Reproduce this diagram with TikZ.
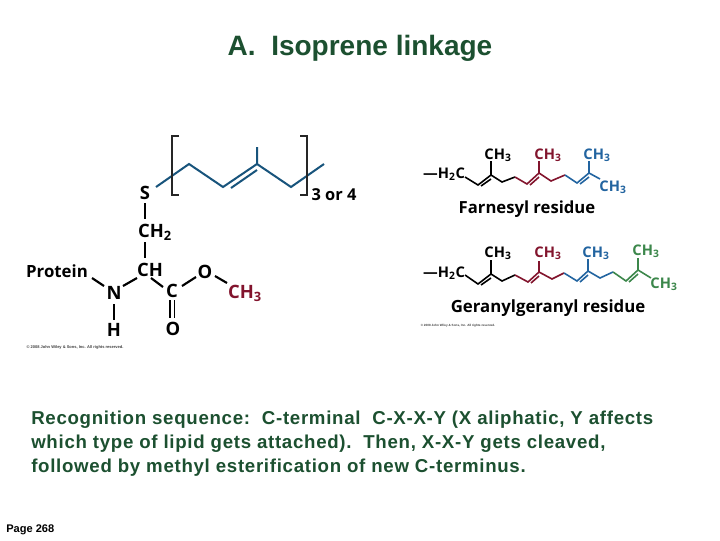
\documentclass[tikz,border=0pt]{standalone}
\usepackage{fontspec}
\setmainfont{Liberation Sans}
\newfontfamily\chemfont{Open Sans}
\newfontfamily\bodyfont[LetterSpace=3.8]{Liberation Sans}
\definecolor{bluec}{RGB}{24,84,124}
\definecolor{blueb}{RGB}{34,100,160}
\definecolor{redc}{RGB}{130,20,45}
\definecolor{greenc}{RGB}{60,135,75}
\definecolor{titlec}{RGB}{28,80,48}
\tikzset{
 lab/.style={font=\chemfont\bfseries\fontsize{#1}{#1}\selectfont,inner sep=0pt},
 lab/.default=13,
 cl/.style={lab=13.8,text=black},
 bond/.style={line width=1.6pt,black},
 sbond/.style={line width=1.3pt,black},
 body/.style={font=\bodyfont\fontsize{14}{18}\selectfont\bfseries,anchor=west,inner sep=0pt,text=titlec},
 tiny/.style={font=\fontsize{#1}{4}\selectfont\bfseries,inner sep=0pt,text=black!75},
}
\begin{document}
\begin{tikzpicture}[x=0.75pt,y=-0.75pt]
\useasboundingbox (0,0) rectangle (720,540);
\fill[white] (0,0) rectangle (720,540);
\node[font=\fontsize{21}{24}\selectfont\bfseries,text=titlec,inner sep=0pt] (title) at (360,48) {A.\ \ Isoprene linkage};
% left structure
\node[cl] (S) at (145,193) {S};
\node[cl] (CH2) at (155,232) {CH\textsubscript{2}};
\node[cl] (CH) at (150,270) {CH};
\node[lab=12.6] (prot) at (57,271) {Protein};
\node[cl] (N) at (114,293) {N};
\node[cl] (H) at (114,330) {H};
\node[cl] (C) at (172,291) {C};
\node[cl] (Od) at (173,329) {O};
\node[cl] (O) at (205,272) {O};
\node[cl,text=redc] (Me) at (245,293) {CH\textsubscript{3}};
\coordinate (sa) at (145,203); \coordinate (sb) at (145,219);
\draw[bond] (sa) -- (sb);
\coordinate (ca) at (145,242); \coordinate (cb) at (145,258);
\draw[bond] (ca) -- (cb);
\coordinate (pa) at (92,278); \coordinate (pb) at (104,286);
\draw[bond] (pa) -- (pb);
\coordinate (na) at (123,286); \coordinate (nb) at (137,278);
\draw[bond] (na) -- (nb);
\coordinate (ha) at (114,304); \coordinate (hb) at (114,320);
\draw[bond] (ha) -- (hb);
\coordinate (da) at (151,278); \coordinate (db) at (163,287);
\draw[bond] (da) -- (db);
\coordinate (ea) at (170,300); \coordinate (eb) at (170,318);
\coordinate (fa) at (174.5,300); \coordinate (fb) at (174.5,318);
\draw[sbond] (ea) -- (eb) (fa) -- (fb);
\coordinate (ga) at (182,286); \coordinate (gb) at (196,277);
\draw[bond] (ga) -- (gb);
\coordinate (ia) at (215,276); \coordinate (ib) at (227,283);
\draw[bond] (ia) -- (ib);
% isoprene unit
\coordinate (i0) at (156,187); \coordinate (i1) at (189,164); \coordinate (i2) at (223,187);
\coordinate (i3) at (257,164); \coordinate (i4) at (291,187); \coordinate (i5) at (324,164);
\coordinate (i6) at (257,147); \coordinate (i7) at (231,188); \coordinate (i8) at (257,170);
\draw[line width=1.5pt,bluec] (i0) -- (i1) -- (i2) -- (i3) -- (i4) -- (i5) (i3) -- (i6) (i7) -- (i8);
\coordinate (bl1) at (179,136); \coordinate (bl2) at (172,136); \coordinate (bl3) at (172,195); \coordinate (bl4) at (179,195);
\coordinate (br1) at (300,136); \coordinate (br2) at (307,136); \coordinate (br3) at (307,195); \coordinate (br4) at (300,195);
\draw[line width=1.5pt,black!85] (bl1) -- (bl2) -- (bl3) -- (bl4) (br1) -- (br2) -- (br3) -- (br4);
\node[lab=12.3] (rep) at (334,195) {3 or 4};
\node[tiny=3] (cp1) at (75,347) {© 2008 John Wiley \& Sons, Inc. All rights reserved.};
% farnesyl
\node[lab=11] (fh) at (444,174) {—H\textsubscript{2}C};
\node[lab=11] (f1) at (498,155) {CH\textsubscript{3}};
\node[lab=11,text=redc] (f2) at (548,155) {CH\textsubscript{3}};
\node[lab=11,text=blueb] (f3) at (597,155) {CH\textsubscript{3}};
\node[lab=11,text=blueb] (f4) at (613,187) {CH\textsubscript{3}};
\node[lab=12.5] (fn) at (527,209) {Farnesyl residue};
\foreach \n/\x/\y in {a/465/177,b/478/185,c/491/175,d/502/182,e/515/177,f/527/184,g/539/173,h/551/181,j/565/175,k/577/183,l/589/173,m/600/179,p/491/161,q/539/161,r/589/161,s/481/186,t/530/185,u/580/184,v/491/179,w/539/177,x/589/177}
  \coordinate (F\n) at (\x,\y);
\draw[line width=1.2pt,black] (Fa) -- (Fb) -- (Fc) -- (Fd) -- (Fe) (Fc) -- (Fp) (Fs) -- (Fv);
\draw[line width=1.2pt,redc] (Fe) -- (Ff) -- (Fg) -- (Fh) -- (Fj) (Fg) -- (Fq) (Ft) -- (Fw);
\draw[line width=1.2pt,blueb] (Fj) -- (Fk) -- (Fl) -- (Fm) (Fl) -- (Fr) (Fu) -- (Fx);
% geranylgeranyl
\node[lab=11] (gh) at (444,273) {—H\textsubscript{2}C};
\node[lab=11] (g1) at (498,253) {CH\textsubscript{3}};
\node[lab=11,text=redc] (g2) at (548,253) {CH\textsubscript{3}};
\node[lab=11,text=blueb] (g3) at (596,253) {CH\textsubscript{3}};
\node[lab=11,text=greenc] (g4) at (646,251) {CH\textsubscript{3}};
\node[lab=11,text=greenc] (g5) at (664,284) {CH\textsubscript{3}};
\node[lab=12.6] (gn) at (548,308) {Geranylgeranyl residue};
\foreach \n/\x/\y in {a/465/275,b/478/284,c/491/274,d/502/281,e/515/275,f/528/282,g/539/272,h/552/279,j/564/273,k/577/281,l/588/271,m/600/278,n/613/272,o/626/281,p/638/270,q/651/278,r/491/260,s/539/261,t/588/259,u/638/258,v/481/285,w/531/283,x/580/282,y/629/282,A/491/278,B/539/276,C/588/275,D/638/274}
  \coordinate (G\n) at (\x,\y);
\draw[line width=1.2pt,black] (Ga) -- (Gb) -- (Gc) -- (Gd) -- (Ge) (Gc) -- (Gr) (Gv) -- (GA);
\draw[line width=1.2pt,redc] (Ge) -- (Gf) -- (Gg) -- (Gh) -- (Gj) (Gg) -- (Gs) (Gw) -- (GB);
\draw[line width=1.2pt,blueb] (Gj) -- (Gk) -- (Gl) -- (Gm) -- (Gn) (Gl) -- (Gt) (Gx) -- (GC);
\draw[line width=1.2pt,greenc] (Gn) -- (Go) -- (Gp) -- (Gq) (Gp) -- (Gu) (Gy) -- (GD);
\node[tiny=2.3] (cp2) at (458,326) {© 2008 John Wiley \& Sons, Inc. All rights reserved.};
% body text
\node[body] (l1) at (31,420) {Recognition sequence:\ \ C-terminal\ \ C-X-X-Y (X aliphatic, Y affects};
\node[body] (l2) at (31,444) {which type of lipid gets attached).\ \ Then, X-X-Y gets cleaved,};
\node[body] (l3) at (31,468) {followed by methyl esterification of new C-terminus.};
\node[font=\fontsize{8.3}{10}\selectfont\bfseries,anchor=west,inner sep=0pt] (pg) at (6,530) {Page 268};
\end{tikzpicture}
\end{document}
